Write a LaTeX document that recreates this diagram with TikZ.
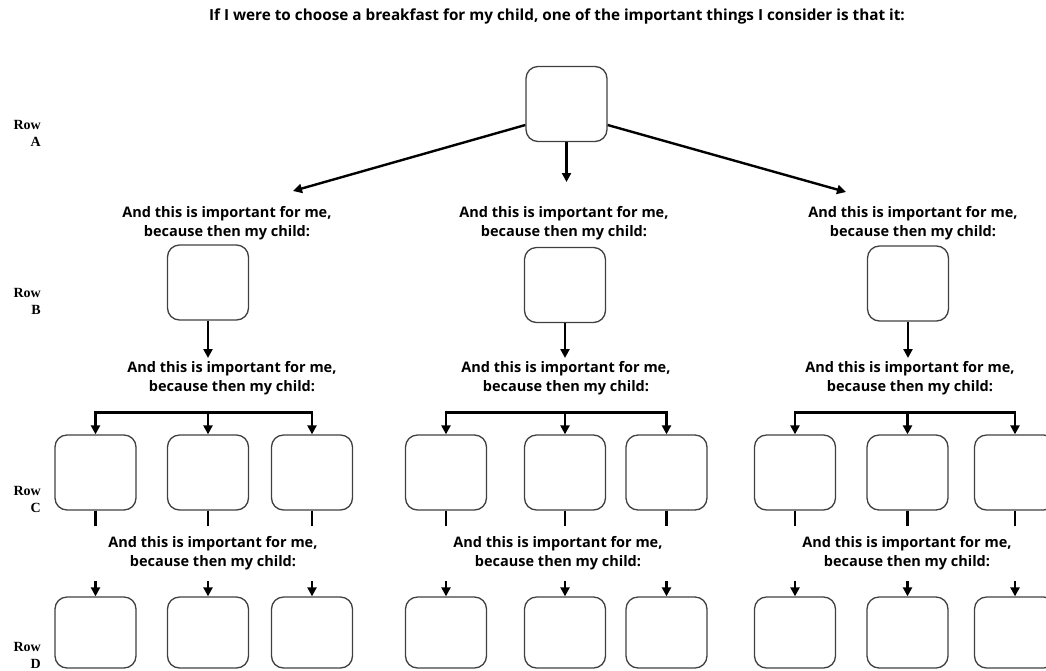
\documentclass[tikz,border=0pt]{standalone}
\usepackage{fontspec}
\setmainfont{Open Sans}
\newfontfamily\labelfont{Liberation Serif}
\usetikzlibrary{arrows.meta}

\begin{document}
\begin{tikzpicture}[x=1pt,y=-1pt,
  box/.style={draw=black!75, line width=1.3pt, rounded corners=12pt,
    minimum width=81pt, minimum height=75pt, inner sep=0pt},
  dbox/.style={box, minimum height=71pt},
  conn/.style={line width=2.4pt, black},
  tip/.tip={Triangle[length=9pt,width=9pt]},
  arr/.style={conn, -tip},
  caption/.style={font=\bfseries\fontsize{14.5}{19}\selectfont, align=center, inner sep=0pt},
  heading/.style={font=\bfseries\fontsize{15.3}{19}\selectfont, inner sep=0pt},
  rowlabel/.style={font=\labelfont\bfseries\fontsize{14}{17}\selectfont,
    align=right, anchor=east, inner sep=0pt}
]
\useasboundingbox (0,0) rectangle (1046,670);
\clip (0,0) rectangle (1046,670);

% heading
\node[heading] (title) at (557,16)
  {If I were to choose a breakfast for my child, one of the important things I consider is that it:};

% row labels
\node[rowlabel] (rowA) at (41,133.5) {Row\\A};
\node[rowlabel] (rowB) at (41,301) {Row\\B};
\node[rowlabel] (rowC) at (41,499.5) {Row\\C};
\node[rowlabel] (rowD) at (41,655.5) {Row\\D};

% row A
\node[box] (A) at (566.5,104) {};
\coordinate (tipL) at (293,191);
\coordinate (tipM) at (566.5,182);
\coordinate (tipR) at (846,192);
\draw[arr] ([yshift=-21pt]A.west) -- (tipL);
\draw[arr] (A.south) -- (tipM);
\draw[arr] ([yshift=-21pt]A.east) -- (tipR);

% captions above row B
\node[caption] (t1L) at (227,223.5) {And this is important for me,\\because then my child:};
\node[caption] (t1M) at (564,223.5) {And this is important for me,\\because then my child:};
\node[caption] (t1R) at (913,223.5) {And this is important for me,\\because then my child:};

% row B
\node[box] (BL) at (208,282.5) {};
\node[box] (BM) at (565,285) {};
\node[box] (BR) at (908,283.5) {};
\coordinate (bL) at (208,358);
\coordinate (bM) at (565,358);
\coordinate (bR) at (908,358);
\draw[arr] (BL.south) -- (bL);
\draw[arr] (BM.south) -- (bM);
\draw[arr] (BR.south) -- (bR);

% captions above row C
\node[caption] (t2L) at (232,378.5) {And this is important for me,\\because then my child:};
\node[caption] (t2M) at (566,378.5) {And this is important for me,\\because then my child:};
\node[caption] (t2R) at (910,378.5) {And this is important for me,\\because then my child:};

% captions above row D
\node[caption] (t3L) at (213,553) {And this is important for me,\\because then my child:};
\node[caption] (t3M) at (558,553) {And this is important for me,\\because then my child:};
\node[caption] (t3R) at (907,553) {And this is important for me,\\because then my child:};

% rows C and D, three groups of three
\foreach \g/\xa/\xb/\xc in {L/95.5/208/312, M/446/565/666.5, R/795/907.5/1015} {
  \node[box] (C\g1) at (\xa,472.5) {};
  \node[box] (C\g2) at (\xb,472.5) {};
  \node[box] (C\g3) at (\xc,472.5) {};
  \node[dbox] (D\g1) at (\xa,632.5) {};
  \node[dbox] (D\g2) at (\xb,632.5) {};
  \node[dbox] (D\g3) at (\xc,632.5) {};
  % bracket feeding row C
  \draw[conn, tip-tip] (C\g1.north) -- ++(0,-22) -| (C\g3.north);
  \draw[arr] ([yshift=22pt]C\g2.north) -- (C\g2.north);
  % stubs below row C and arrows into row D
  \foreach \i in {1,2,3} {
    \draw[conn] (C\g\i.south) -- ++(0,15);
    \draw[arr] ([yshift=15pt]D\g\i.north) -- (D\g\i.north);
  }
}
\end{tikzpicture}
\end{document}
